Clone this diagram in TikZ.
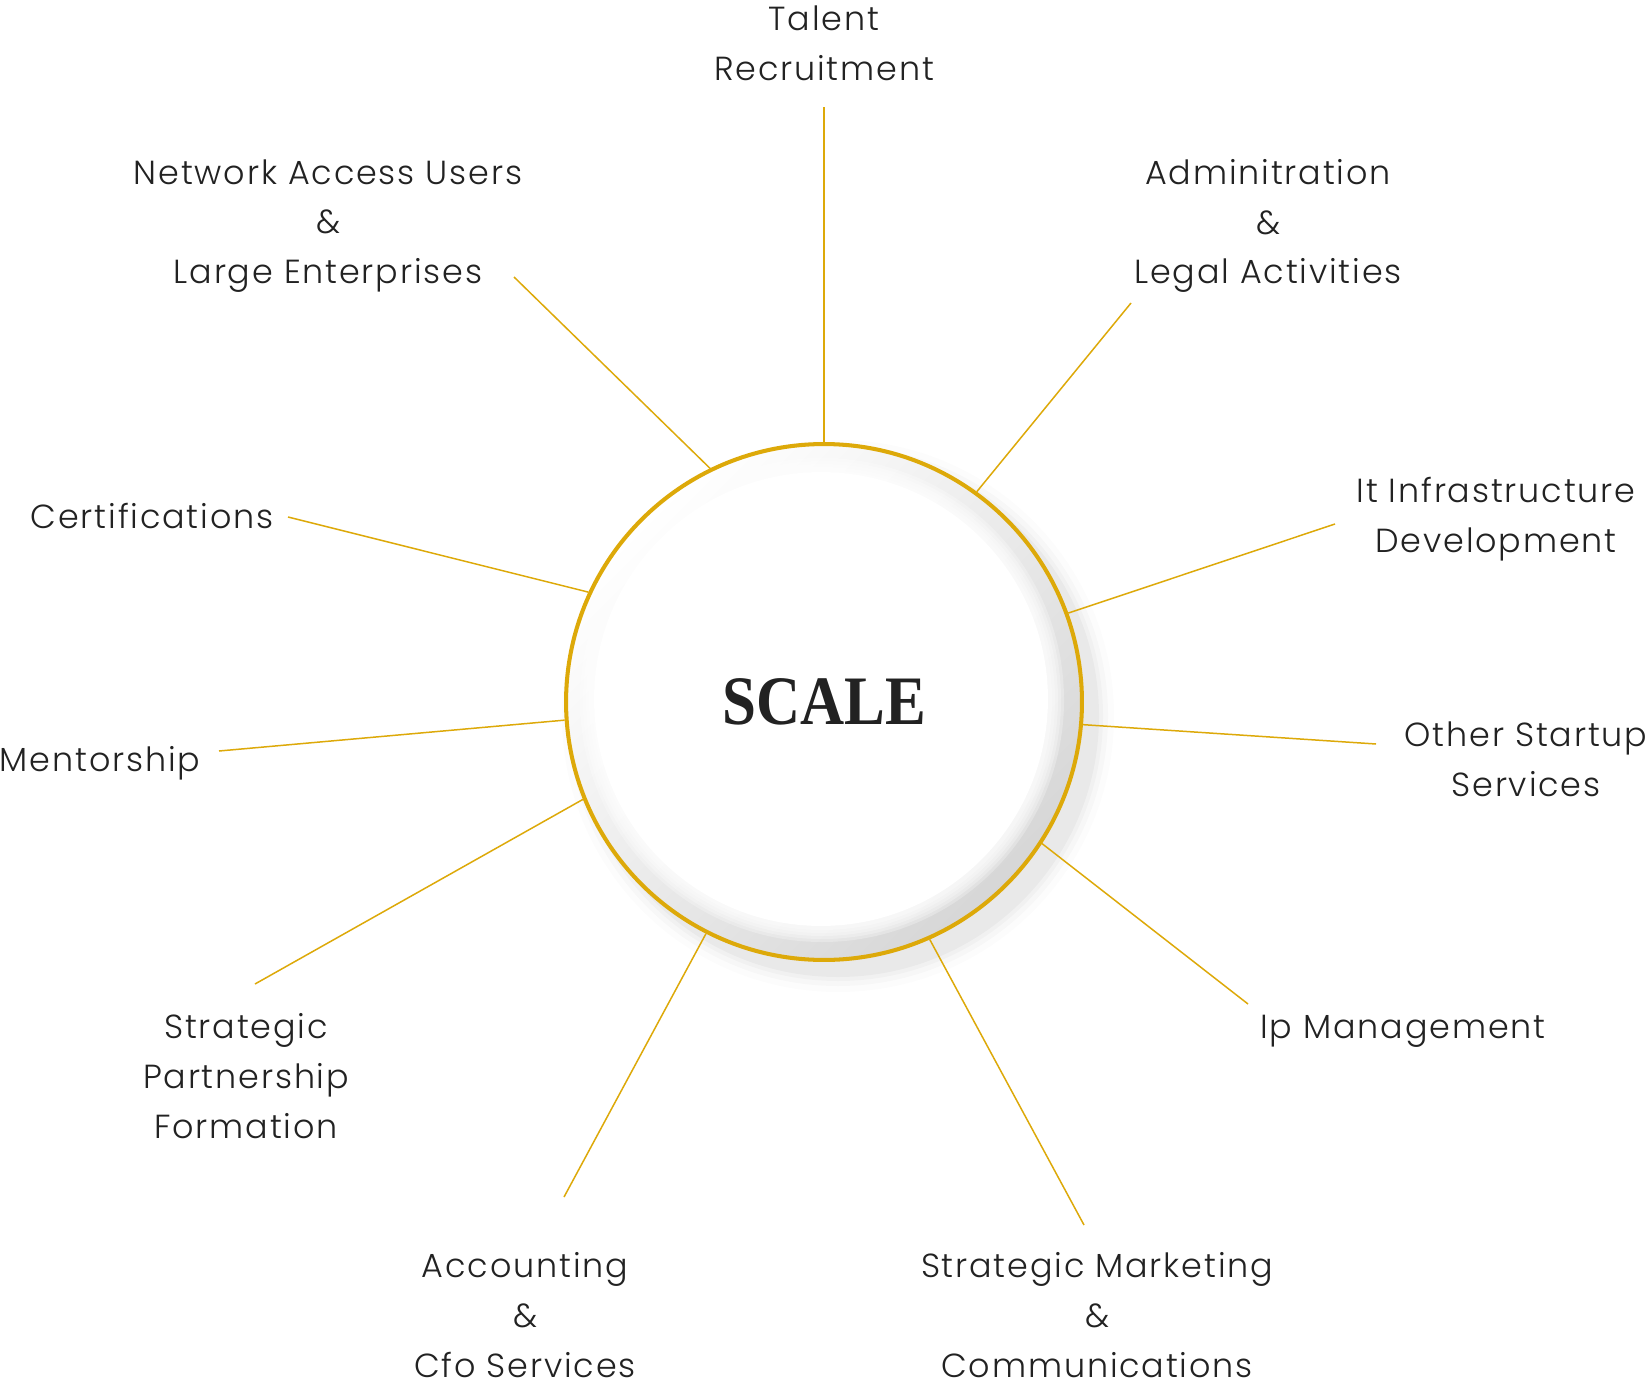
\documentclass[tikz,border=0pt]{standalone}
\usepackage{fontspec}
\setmainfont{Poppins Light}[LetterSpace=5.5]
\newfontfamily\titlefont{Liberation Serif}
\definecolor{gold}{RGB}{221,169,9}
\definecolor{ink}{RGB}{34,34,34}
\begin{document}
\begin{tikzpicture}[x=0.02cm,y=-0.02cm,
  lbl/.style={align=center,text=ink,inner sep=0pt,font=\fontsize{19pt}{28.3pt}\selectfont},
  spoke/.style={draw=gold,line width=0.85pt},
  hub/.style={circle,draw=gold,line width=2.3pt,minimum size=10.32cm,inner sep=0pt,text=ink}]
\useasboundingbox (0,0) rectangle (1648,1388);
\fill[white] (0,0) rectangle (1648,1388);
% soft outer drop shadow (lower right)
\foreach \r/\o in {276/0.012,270/0.018,265/0.025,261/0.03}
  \fill[black,opacity=\o] (838,716) circle[radius=\r*0.02cm];
% disc with inset shading
\shade[top color=white,bottom color=black!16,shading angle=45] (824,702) circle[radius=5.16cm];
\foreach \r in {242,239,236,233,230}
  \fill[white,opacity=0.28] (822,700) circle[radius=\r*0.02cm];
\fill[white] (821,699) circle[radius=4.54cm];
% hub
\node[hub] (c) at (824,702) {\titlefont\bfseries\fontsize{39.5pt}{40pt}\selectfont\scalebox{0.88}[1]{SCALE}};
% outer ends
\coordinate (e1) at (824,107);
\coordinate (e2) at (1131,303);
\coordinate (e3) at (1335,524);
\coordinate (e4) at (1376,744);
\coordinate (e5) at (1248,1004);
\coordinate (e6) at (1084,1225);
\coordinate (e7) at (564,1197);
\coordinate (e8) at (255,984);
\coordinate (e9) at (219,751);
\coordinate (e10) at (288,517);
\coordinate (e11) at (514,277);
\draw[spoke] (c.90) -- (e1);
\draw[spoke] (c.54.6) -- (e2);
\draw[spoke] (c.20.1) -- (e3);
\draw[spoke] (c.-5.5) -- (e4);
\draw[spoke] (c.-33.8) -- (e5);
\draw[spoke] (c.-66.4) -- (e6);
\draw[spoke] (c.243.6) -- (e7);
\draw[spoke] (c.202.1) -- (e8);
\draw[spoke] (c.184) -- (e9);
\draw[spoke] (c.155.8) -- (e10);
\draw[spoke] (c.116.3) -- (e11);
% labels
\node[lbl] (l1) at (824,43) {Talent\\Recruitment};
\node[lbl] (l2) at (1268,226) {Adminitration\\\&\\Legal Activities};
\node[lbl] (l3) at (1496,519) {It Infrastructure\\Development};
\node[lbl] (l4) at (1526,759) {Other Startup\\Services};
\node[lbl] (l5) at (1403,1031) {Ip Management};
\node[lbl] (l6) at (1097,1315) {Strategic Marketing\\\&\\Communications};
\node[lbl] (l7) at (525,1315) {Accounting\\\&\\Cfo Services};
\node[lbl] (l8) at (246,1076) {Strategic\\Partnership\\Formation};
\node[lbl] (l9) at (100,763) {Mentorship};
\node[lbl] (l10) at (152,516) {Certifications};
\node[lbl] (l11) at (328,226) {Network Access Users\\\&\\Large Enterprises};
\end{tikzpicture}
\end{document}
